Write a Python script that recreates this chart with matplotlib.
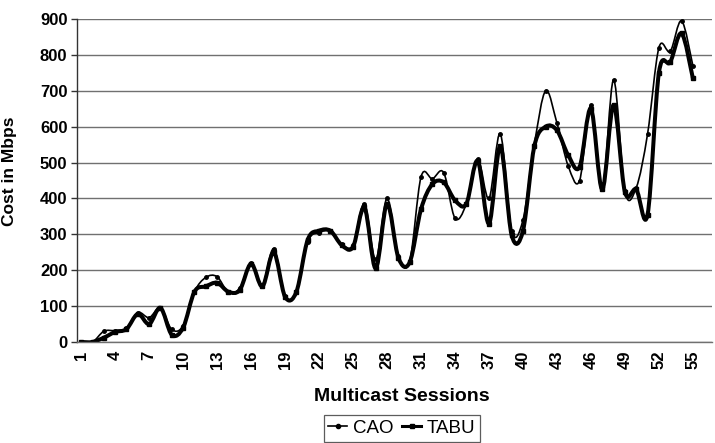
import matplotlib
matplotlib.use("Agg")
import matplotlib.pyplot as plt
from matplotlib.lines import Line2D
from matplotlib.patches import PathPatch
from matplotlib.path import Path

plt.rcParams["font.family"] = ["Liberation Sans", "DejaVu Sans"]

# values
sessions = list(range(1, 56))
cao = [0, 0, 30, 32, 38, 82, 68, 95, 35, 45,
       140, 180, 182, 138, 150, 220, 160, 260, 128, 140,
       280, 305, 308, 272, 270, 385, 230, 400, 240, 225,
       460, 455, 472, 345, 385, 510, 400, 580, 310, 340,
       550, 700, 610, 490, 450, 660, 425, 730, 420, 430,
       580, 820, 810, 895, 770]
tabu = [0, 0, 12, 28, 36, 78, 50, 95, 20, 40,
        140, 155, 165, 140, 145, 218, 155, 250, 126, 140,
        285, 310, 310, 270, 265, 375, 205, 385, 235, 222,
        370, 440, 445, 395, 385, 505, 330, 545, 298, 310,
        545, 600, 590, 520, 488, 650, 425, 660, 418, 425,
        355, 750, 780, 860, 735]
tick_sessions = list(range(1, 56, 3))
y_ticks = list(range(0, 901, 100))


def smooth_path(x, y):
    # bezier curve through the points, like the "smoothed line" option in Excel
    n = len(x)
    verts = [(x[0], y[0])]
    codes = [Path.MOVETO]
    for i in range(n - 1):
        xa, ya = (x[i - 1], y[i - 1]) if i > 0 else (x[i], y[i])
        xb, yb = (x[i + 2], y[i + 2]) if i + 2 < n else (x[i + 1], y[i + 1])
        c1 = (x[i] + (x[i + 1] - xa) / 6.0, y[i] + (y[i + 1] - ya) / 6.0)
        c2 = (x[i + 1] - (xb - x[i]) / 6.0, y[i + 1] - (yb - y[i]) / 6.0)
        verts += [c1, c2, (x[i + 1], y[i + 1])]
        codes += [Path.CURVE4] * 3
    return Path(verts, codes)


fig = plt.figure(figsize=(7.15, 4.43), dpi=100)
ax = fig.add_axes([0.108, 0.228, 0.888, 0.729])

ax.set_xlim(0.65, 56.7)
ax.set_ylim(0, 900)
ax.set_yticks(y_ticks)
ax.set_xticks(tick_sessions)
ax.set_xticklabels([str(t) for t in tick_sessions], rotation=90)

ax.yaxis.grid(True, color="#707070", lw=1.0)
ax.set_axisbelow(True)
for side in ["top", "right"]:
    ax.spines[side].set_visible(False)
ax.spines["left"].set_color("#333333")
ax.spines["left"].set_linewidth(1.0)
ax.spines["bottom"].set_color("#707070")
ax.spines["bottom"].set_linewidth(1.0)

ax.tick_params(axis="y", length=4, width=1, color="#333333", pad=3)
ax.tick_params(axis="x", length=0, pad=6)
for lbl in ax.get_xticklabels() + ax.get_yticklabels():
    lbl.set_fontweight("bold")
    lbl.set_fontsize(12)

ax.add_patch(PathPatch(smooth_path(sessions, tabu), fill=False, ec="black",
                       lw=2.9, joinstyle="round", capstyle="round"))
ax.add_patch(PathPatch(smooth_path(sessions, cao), fill=False, ec="black",
                       lw=1.2, joinstyle="round", capstyle="round"))
ax.plot(sessions, tabu, ls="none", marker="s", ms=3.5, color="black")
ax.plot(sessions, cao, ls="none", marker="o", ms=2.5, color="black")

ax.set_ylabel("Cost in Mbps", fontsize=12.5, fontweight="bold")
ax.yaxis.set_label_coords(-0.095, 0.53)
ax.set_xlabel("Multicast Sessions", fontsize=14, fontweight="bold")
ax.xaxis.set_label_coords(0.512, -0.142)

handles = [
    Line2D([], [], color="black", lw=1.2, marker="o", ms=3),
    Line2D([], [], color="black", lw=2.2, marker="s", ms=3.5),
]
leg = fig.legend(handles, ["CAO", "TABU"], loc="lower center",
                 bbox_to_anchor=(0.562, -0.018), ncol=2, frameon=True,
                 fancybox=False, handlelength=1.0, handletextpad=0.3,
                 columnspacing=0.5, borderpad=0.25,
                 prop={"family": ["Liberation Sans Narrow", "Liberation Sans"],
                       "size": 13.5})
leg.get_frame().set_edgecolor("#333333")
leg.get_frame().set_linewidth(0.9)

fig.savefig("out.png", dpi=100)
